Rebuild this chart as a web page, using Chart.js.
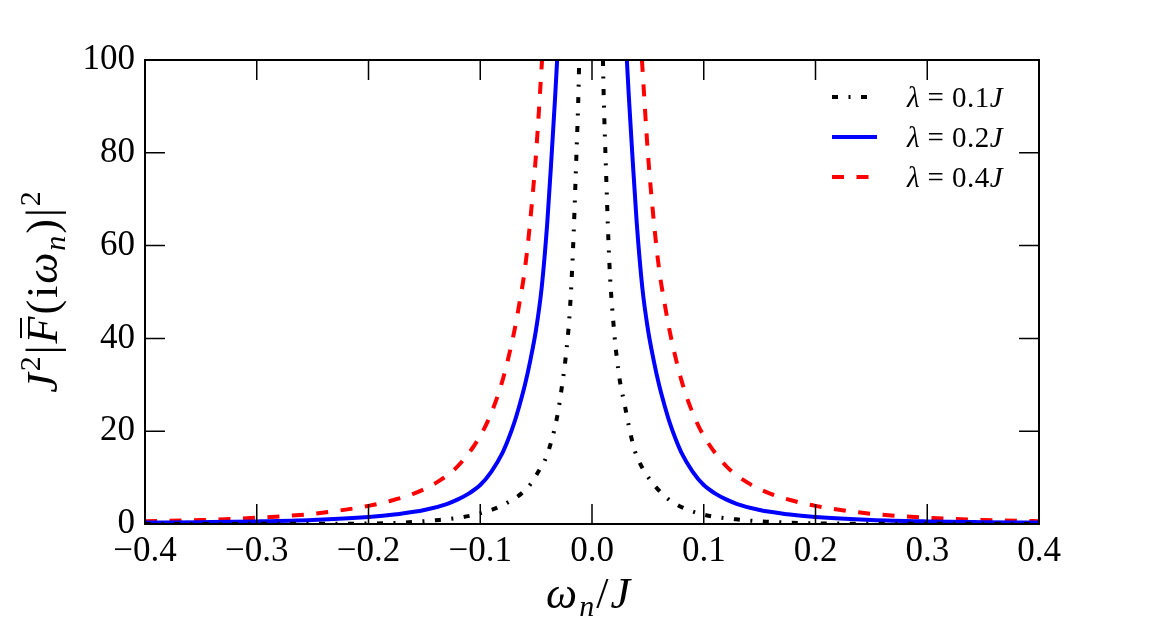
<!DOCTYPE html>
<html>
<head>
<meta charset="utf-8">
<script src="https://cdn.jsdelivr.net/npm/chart.js@4.4.1/dist/chart.umd.min.js"></script>
<style>
html, body { margin: 0; padding: 0; background: #fff; }
#wrap { width: 1155px; height: 622px; }
</style>
</head>
<body>
<div id="wrap"><canvas id="fChart" width="1155" height="622"></canvas></div>
<script>
// values (null = gap where the curve leaves the top)
const omega01 = [-0.4, -0.3, -0.25, -0.2, -0.17, -0.14, -0.12, -0.1, -0.087, -0.075, -0.063, -0.055, -0.048, -0.042, -0.038, -0.034, -0.0305, -0.027, -0.0235, -0.0201, -0.0172, -0.0141, -0.0118, -0.0115,
                 0,
                 0.0098, 0.0103, 0.0127, 0.0156, 0.02, 0.0246, 0.029, 0.0335, 0.038, 0.0425, 0.05, 0.0574, 0.067, 0.078, 0.09, 0.102, 0.129, 0.156, 0.2, 0.25, 0.3, 0.4];
const fbar01 = [0.02, 0.03, 0.05, 0.1, 0.3, 0.8, 1.3, 2.3, 3.3, 4.7, 6.6, 8.6, 11.3, 13.8, 16.5, 20, 24, 29.5, 36, 45, 58, 78.5, 96, 100,
                null,
                100, 94, 75, 56, 41, 31.4, 26, 20.5, 16, 13.3, 10.2, 7.9, 5.6, 3.9, 2.7, 1.9, 1.0, 0.5, 0.15, 0.06, 0.04, 0.02];

const omega02 = [-0.4, -0.35, -0.3, -0.25, -0.2, -0.175, -0.15, -0.13, -0.12, -0.11, -0.1, -0.09, -0.08, -0.075, -0.07, -0.065, -0.06, -0.055, -0.05, -0.045, -0.04, -0.036, -0.033, -0.0312,
                 0,
                 0.0312, 0.033, 0.036, 0.04, 0.045, 0.05, 0.055, 0.06, 0.065, 0.07, 0.075, 0.08, 0.09, 0.1, 0.11, 0.12, 0.13, 0.15, 0.175, 0.2, 0.25, 0.3, 0.35, 0.4];
const fbar02 = [0.3, 0.4, 0.55, 0.85, 1.5, 2.1, 3.0, 4.3, 5.3, 6.6, 8.4, 11.3, 15.4, 18.2, 21.5, 25.5, 30, 35.5, 42, 51, 65, 80, 92, 100,
                null,
                100, 92, 80, 65, 51, 42, 35.5, 30, 25.5, 21.5, 18.2, 15.4, 11.3, 8.4, 6.6, 5.3, 4.3, 3.0, 2.1, 1.5, 0.85, 0.55, 0.4, 0.3];

const omega04 = [-0.4, -0.35, -0.3, -0.25, -0.2, -0.18, -0.16, -0.14, -0.12, -0.1, -0.09, -0.08, -0.07, -0.065, -0.06, -0.055, -0.05, -0.0447,
                 0,
                 0.0447, 0.05, 0.055, 0.06, 0.065, 0.07, 0.08, 0.09, 0.1, 0.12, 0.14, 0.16, 0.18, 0.2, 0.25, 0.3, 0.35, 0.4];
const fbar04 = [0.6, 0.85, 1.35, 2.2, 3.9, 5, 6.5, 8.8, 12.5, 19, 24, 31, 41, 47.5, 55, 66, 80, 100,
                null,
                100, 80, 66, 55, 47.5, 41, 31, 24, 19, 12.5, 8.8, 6.5, 5, 3.9, 2.2, 1.35, 0.85, 0.6];

const seriesLabels = ['λ = 0.1J', 'λ = 0.2J', 'λ = 0.4J'];
const xTickValues = [-0.4, -0.3, -0.2, -0.1, 0, 0.1, 0.2, 0.3, 0.4];
const yTickValues = [0, 20, 40, 60, 80, 100];

const serif = '"Liberation Serif", "DejaVu Serif", serif';

const toPoints = (xs, ys) => xs.map((x, i) => ({x: x, y: ys[i]}));

// draw a row of text pieces (for the math style labels)
function drawRich(ctx, parts, x, y, gap) {
    parts.forEach(p => {
        ctx.font = p.f;
        ctx.fillText(p.t, x, y + (p.dy || 0));
        const w = ctx.measureText(p.t).width;
        if (p.bar) {
            ctx.fillRect(x + w * 0.2, y - 37, w * 0.75, 2);
        }
        x += w + (p.sp || 0) + gap;
    });
}
function richWidth(ctx, parts, gap) {
    let w = 0;
    parts.forEach(p => { ctx.font = p.f; w += ctx.measureText(p.t).width + (p.sp || 0) + gap; });
    return w - gap;
}

const itBig = 'italic 44px ' + serif, rmBig = '44px ' + serif;
const itSmall = 'italic 30px ' + serif, rmSmall = '30px ' + serif;

const yTitle = [
    {t: 'J', f: itBig}, {t: '2', f: rmSmall, dy: -17}, {t: '|', f: rmBig},
    {t: 'F', f: itBig, bar: true}, {t: '(', f: rmBig}, {t: 'i', f: rmBig},
    {t: 'ω', f: itBig}, {t: 'n', f: itSmall, dy: 8}, {t: ')', f: rmBig},
    {t: '|', f: rmBig}, {t: '2', f: rmSmall, dy: -17}
];
const xTitle = [{t: 'ω', f: itBig}, {t: 'n', f: itSmall, dy: 8}, {t: '/', f: rmBig}, {t: 'J', f: itBig}];

function legendParts(label) {
    return label.split('').map(c => {
        if (c === ' ') return {t: '', f: rmSmall, sp: 7};
        return {t: c, f: (/[A-Za-zλ]/.test(c) ? 'italic 29px ' : '29px ') + serif};
    });
}

const decorations = {
    id: 'decorations',
    afterDatasetsDraw(chart) {
        const {ctx, chartArea: a, scales} = chart;
        ctx.save();
        ctx.strokeStyle = '#000';
        ctx.fillStyle = '#000';

        // inward ticks on all four sides
        ctx.lineWidth = 1.5;
        ctx.beginPath();
        scales.x.ticks.forEach(t => {
            const px = scales.x.getPixelForValue(t.value);
            ctx.moveTo(px, a.bottom); ctx.lineTo(px, a.bottom - 20);
            ctx.moveTo(px, a.top); ctx.lineTo(px, a.top + 20);
        });
        scales.y.ticks.forEach(t => {
            const py = scales.y.getPixelForValue(t.value);
            ctx.moveTo(a.left, py); ctx.lineTo(a.left + 20, py);
            ctx.moveTo(a.right, py); ctx.lineTo(a.right - 20, py);
        });
        ctx.stroke();
        ctx.lineWidth = 2;
        ctx.strokeRect(a.left, a.top, a.right - a.left, a.bottom - a.top);

        // legend
        chart.data.datasets.forEach((ds, i) => {
            const y = 97 + i * 40;
            ctx.save();
            ctx.strokeStyle = ds.borderColor;
            ctx.lineWidth = ds.borderWidth;
            ctx.setLineDash(ds.borderDash || []);
            ctx.beginPath();
            ctx.moveTo(832, y); ctx.lineTo(877, y);
            ctx.stroke();
            ctx.restore();
            ctx.textBaseline = 'alphabetic';
            drawRich(ctx, legendParts(ds.label), 907, y + 10, 0.5);
        });

        // axis titles
        ctx.textBaseline = 'alphabetic';
        const xw = richWidth(ctx, xTitle, 2);
        drawRich(ctx, xTitle, (a.left + a.right) / 2 - xw / 2 - 4, 608, 2);

        ctx.save();
        ctx.translate(57, (a.top + a.bottom) / 2);
        ctx.rotate(-Math.PI / 2);
        const yw = richWidth(ctx, yTitle, 2);
        drawRich(ctx, yTitle, -yw / 2, 0, 2);
        ctx.restore();

        ctx.restore();
    }
};

const ctxF = document.getElementById('fChart').getContext('2d');

const chartF = new Chart(ctxF, {
    type: 'line',
    data: {
        datasets: [{
            label: seriesLabels[0],
            data: toPoints(omega01, fbar01),
            borderColor: '#000000',
            borderWidth: 4,
            borderDash: [6, 10.5, 2, 10.5]
        }, {
            label: seriesLabels[1],
            data: toPoints(omega02, fbar02),
            borderColor: '#0000ff',
            borderWidth: 4
        }, {
            label: seriesLabels[2],
            data: toPoints(omega04, fbar04),
            borderColor: '#ff0000',
            borderWidth: 4,
            borderDash: [12, 12.5]
        }]
    },
    options: {
        responsive: false,
        animation: false,
        devicePixelRatio: 1,
        spanGaps: false,
        elements: {
            point: { radius: 0 },
            line: { cubicInterpolationMode: 'monotone', borderCapStyle: 'butt', fill: false }
        },
        layout: { padding: { top: 60, right: 116, left: 0, bottom: 0 } },
        plugins: { legend: { display: false }, tooltip: { enabled: false } },
        scales: {
            x: {
                type: 'linear',
                min: -0.4,
                max: 0.4,
                afterBuildTicks: s => { s.ticks = xTickValues.map(v => ({value: v})); },
                afterFit: s => { s.height = 98; },
                grid: { display: false, drawTicks: false },
                border: { display: false },
                ticks: {
                    autoSkip: false,
                    maxRotation: 0,
                    padding: 7,
                    color: '#000',
                    font: { family: serif, size: 35 },
                    callback: v => (v < 0 ? '\u2212' : '') + Math.abs(v).toFixed(1)
                }
            },
            y: {
                type: 'linear',
                min: 0,
                max: 100,
                afterBuildTicks: s => { s.ticks = yTickValues.map(v => ({value: v})); },
                afterFit: s => { s.width = 145; },
                grid: { display: false, drawTicks: false },
                border: { display: false },
                ticks: {
                    padding: 10,
                    color: '#000',
                    font: { family: serif, size: 35 }
                }
            }
        }
    },
    plugins: [decorations]
});
</script>
</body>
</html>
